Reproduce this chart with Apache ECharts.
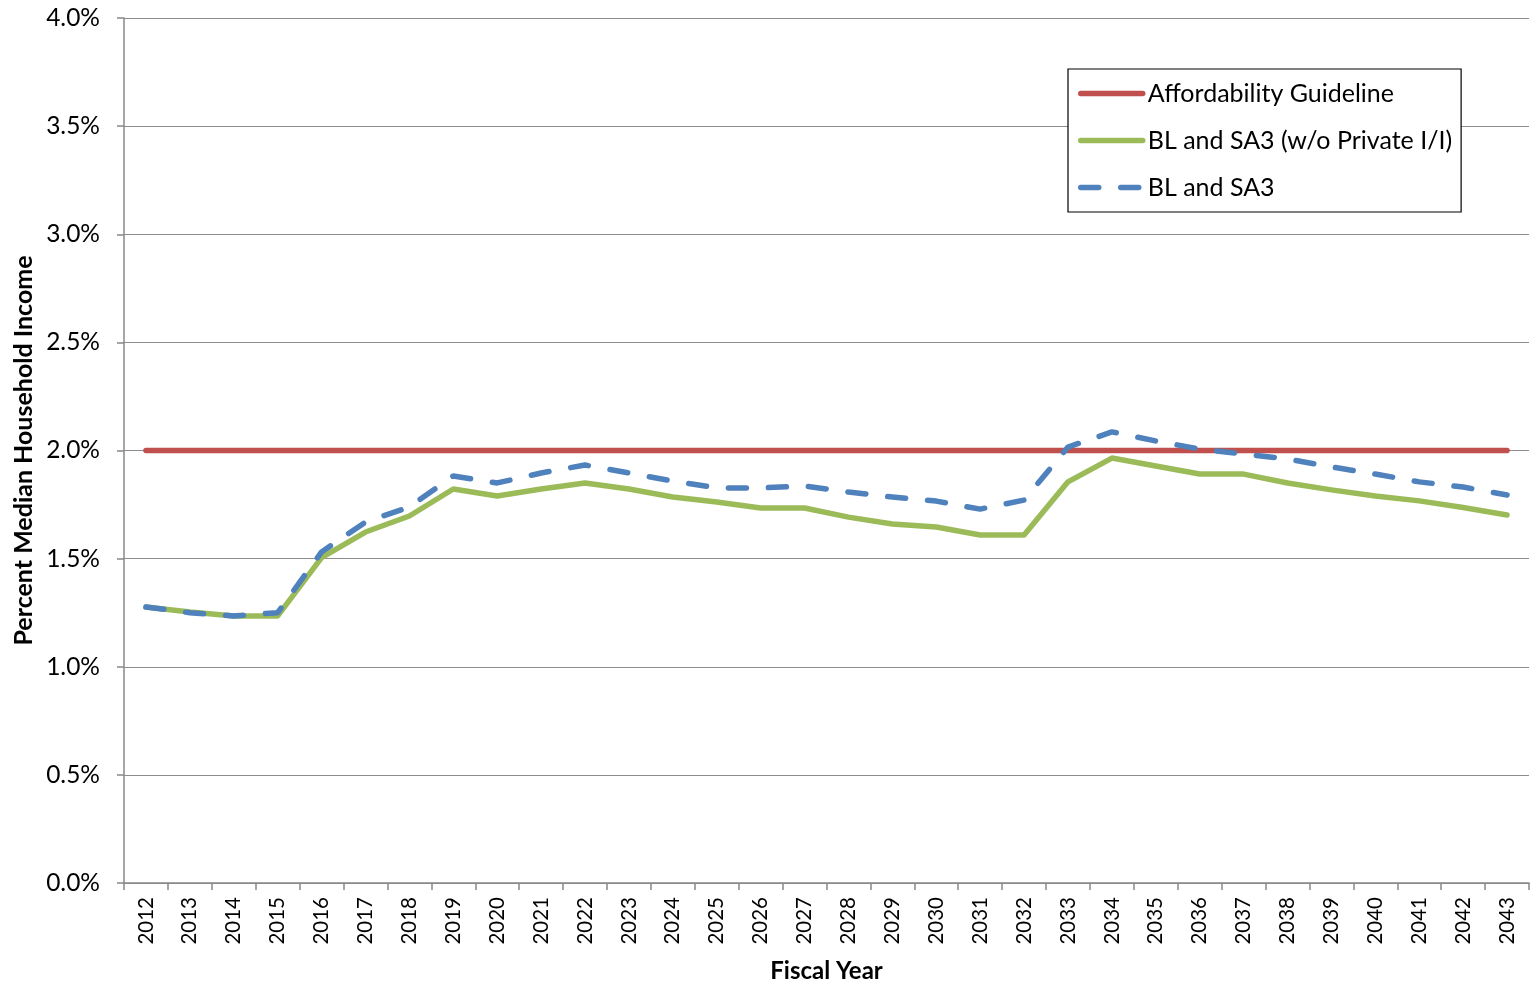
<!DOCTYPE html>
<html>
<head>
<meta charset="utf-8">
<script src="https://cdn.jsdelivr.net/npm/echarts@6/dist/echarts.min.js"></script>
<style>html,body{margin:0;padding:0;background:#fff;}#c{width:1534px;height:983px;}</style>
</head>
<body>
<div id="c"></div>
<script>
const years = ['2012','2013','2014','2015','2016','2017','2018','2019','2020','2021','2022','2023','2024','2025','2026','2027','2028','2029','2030','2031','2032','2033','2034','2035','2036','2037','2038','2039','2040','2041','2042','2043'];
const guideline = [2.0,2.0,2.0,2.0,2.0,2.0,2.0,2.0,2.0,2.0,2.0,2.0,2.0,2.0,2.0,2.0,2.0,2.0,2.0,2.0,2.0,2.0,2.0,2.0,2.0,2.0,2.0,2.0,2.0,2.0,2.0,2.0];
const woPrivate = [1.276,1.253,1.235,1.235,1.505,1.623,1.697,1.822,1.790,1.822,1.850,1.822,1.785,1.762,1.734,1.734,1.692,1.660,1.646,1.609,1.609,1.855,1.965,1.928,1.891,1.891,1.850,1.818,1.790,1.767,1.736,1.702];
const blSa3 = [1.276,1.250,1.235,1.250,1.531,1.669,1.739,1.882,1.850,1.896,1.933,1.896,1.859,1.827,1.827,1.836,1.808,1.785,1.766,1.729,1.771,2.016,2.086,2.044,2.007,1.984,1.961,1.924,1.891,1.855,1.831,1.794];
const yTicks = [0,0.5,1.0,1.5,2.0,2.5,3.0,3.5,4.0];

const font = 'Lato, "Open Sans", sans-serif';
const chart = echarts.init(document.getElementById('c'));
chart.setOption({
  animation: false,
  grid: {left:124, right:5, top:18, bottom:100, containLabel:false, outerBoundsMode:'none'},
  legend: {
    orient:'vertical', left:1068, top:69,
    padding:[12, 9, 12, 10],
    borderColor:'#000', borderWidth:1.2, backgroundColor:'#fff',
    itemWidth:62, itemHeight:5, itemGap:22,
    itemStyle:{opacity:0},
    lineStyle:{width:5.5, cap:'round'},
    textStyle:{fontFamily:font, fontSize:25, color:'#000'},
    data:['Affordability Guideline','BL and SA3 (w/o Private I/I)','BL and SA3']
  },
  xAxis: {
    type:'category', data:years, boundaryGap:true,
    name:'Fiscal Year', nameLocation:'middle', nameGap:76, nameMoveOverlap:false,
    nameTextStyle:{fontFamily:font, fontSize:24, fontWeight:'bold', color:'#000'},
    axisLine:{lineStyle:{color:'#888', width:1.5}},
    axisTick:{show:true, length:7, lineStyle:{color:'#888', width:1.5}},
    axisLabel:{rotate:90, fontFamily:font, fontSize:20.5, color:'#000', margin:14, interval:0}
  },
  yAxis: {
    type:'value', min:0, max:4, interval:0.5,
    name:'Percent Median Household Income', nameLocation:'middle', nameGap:88, nameMoveOverlap:false,
    nameTextStyle:{fontFamily:font, fontSize:25, fontWeight:'bold', color:'#000'},
    axisLine:{show:true, lineStyle:{color:'#888', width:1.5}},
    axisTick:{show:true, length:7, lineStyle:{color:'#888', width:1.5}},
    axisLabel:{fontFamily:font, fontSize:24.5, color:'#000', margin:24, formatter:v=>v.toFixed(1)+'%'},
    splitLine:{lineStyle:{color:'#8c8c8c', width:1.2}}
  },
  series: [
    {name:'Affordability Guideline', type:'line', data:guideline, showSymbol:false, symbol:'none',
     lineStyle:{color:'#C0504D', width:5.5, cap:'round'}, itemStyle:{color:'#C0504D'}},
    {name:'BL and SA3 (w/o Private I/I)', type:'line', data:woPrivate, showSymbol:false, symbol:'none',
     lineStyle:{color:'#9BBB59', width:5.5, cap:'round', join:'round'}, itemStyle:{color:'#9BBB59'}},
    {name:'BL and SA3', type:'line', data:blSa3, showSymbol:false, symbol:'none',
     lineStyle:{color:'#4F81BD', width:5.5, type:[18,22], cap:'round', join:'round'}, itemStyle:{color:'#4F81BD'}}
  ]
});
</script>
</body>
</html>
